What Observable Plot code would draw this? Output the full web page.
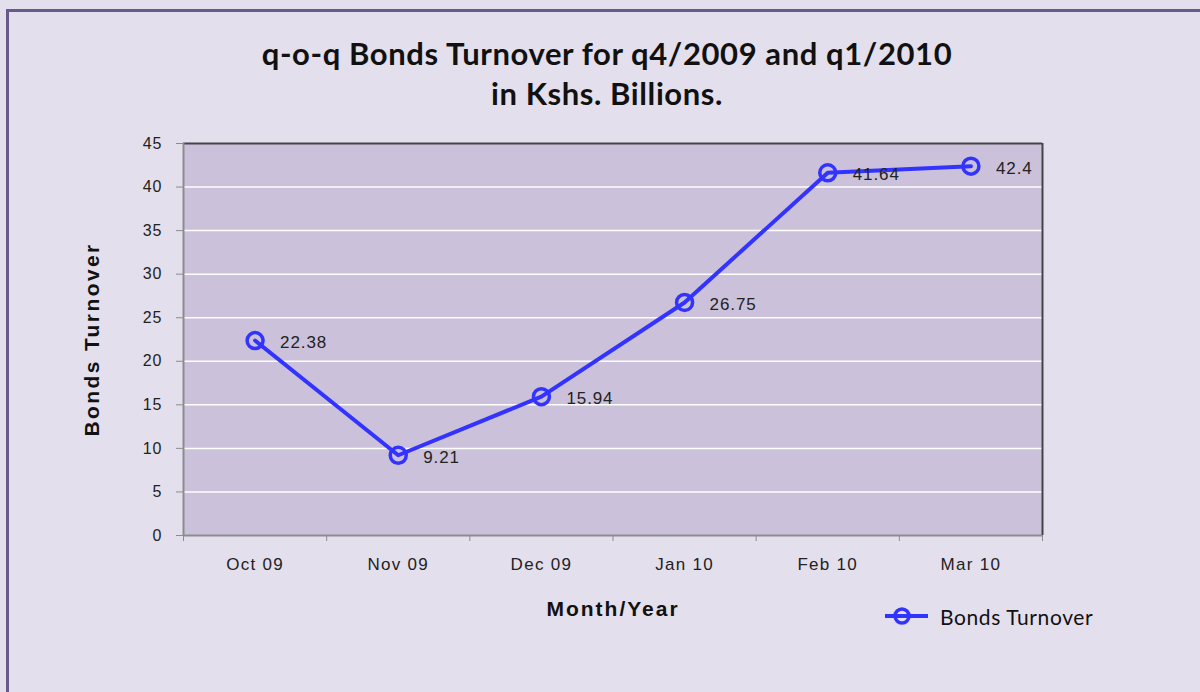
<!DOCTYPE html>
<html>
<head>
<meta charset="utf-8">
<script src="https://cdn.jsdelivr.net/npm/d3@7"></script>
<script src="https://cdn.jsdelivr.net/npm/@observablehq/plot@0.6"></script>
<style>
  html, body { margin: 0; padding: 0; }
  #page { position: relative; width: 1200px; height: 692px; overflow: hidden; background: #e4dfec; }
  #border { position: absolute; left: 6px; top: 9px; width: 1400px; height: 900px; border: 3px solid #6a5a8c; box-sizing: border-box; }
  #title { position: absolute; left: 0; width: 1214px; top: 33px; text-align: center; font-family: Lato, "Open Sans", sans-serif; font-weight: bold; font-size: 31px; letter-spacing: 0.6px; line-height: 40px; color: #111; }
  #chart { position: absolute; left: 0; top: 0; }
  #legend { position: absolute; left: 884px; top: 603px; display: flex; align-items: center; font-family: Lato, "Open Sans", sans-serif; font-size: 21px; letter-spacing: 0.6px; color: #111; }
</style>
</head>
<body>
<div id="page">
  <div id="border"></div>
  <div id="title">q-o-q Bonds Turnover for q4/2009 and q1/2010<br>in Kshs. Billions.</div>
  <div id="chart"></div>
  <div id="legend">
    <svg width="56" height="26"><line x1="1" y1="13" x2="44" y2="13" stroke="#3333ff" stroke-width="4"/><circle cx="18" cy="13" r="7" fill="none" stroke="#3333ff" stroke-width="3.5"/></svg>
    <span>Bonds Turnover</span>
  </div>
</div>
<script>
const months = ["Oct 09", "Nov 09", "Dec 09", "Jan 10", "Feb 10", "Mar 10"];
const turnover = [22.38, 9.21, 15.94, 26.75, 41.64, 42.4];
const yTicks = [0, 5, 10, 15, 20, 25, 30, 35, 40, 45];
const gridTicks = [5, 10, 15, 20, 25, 30, 35, 40];

const data = months.map((m, i) => ({month: m, i: i + 0.5, value: turnover[i]}));
const blue = "#3333ff";
const font = "'Liberation Sans', Arial, sans-serif";

const chart = Plot.plot({
  width: 1200,
  height: 692,
  marginLeft: 183,
  marginRight: 158,
  marginTop: 143,
  marginBottom: 157,
  style: {background: "transparent", fontFamily: font, fontSize: "16px", color: "#222"},
  x: {domain: [0, 6]},
  y: {domain: [0, 45]},
  marks: [
    Plot.frame({fill: "#cbc1da", stroke: null}),
    Plot.gridY(gridTicks, {stroke: "#ffffff", strokeOpacity: 1, strokeWidth: 1.5}),
    Plot.ruleY([45], {stroke: "#444", strokeWidth: 2}),
    Plot.ruleX([6], {stroke: "#444", strokeWidth: 2}),
    Plot.ruleY([0], {stroke: "#8c8c8c", strokeWidth: 2}),
    Plot.ruleX([0], {stroke: "#8c8c8c", strokeWidth: 2}),
    Plot.axisY({ticks: yTicks, tickSize: 7, tickPadding: 14, stroke: "#8c8c8c", fill: "#222", fontSize: 16, label: null}),
    Plot.axisX({ticks: [0, 1, 2, 3, 4, 5, 6], tickSize: 6, tickFormat: () => "", stroke: "#8c8c8c", label: null}),
    Plot.text(months, {x: (d, i) => i + 0.5, text: d => d, frameAnchor: "bottom", dy: 34, fontSize: 17, fill: "#222"}),
    Plot.text(["Month/Year"], {frameAnchor: "bottom", dy: 80, fontSize: 21, fontWeight: "bold", fill: "#111"}),
    Plot.text(["Bonds Turnover"], {frameAnchor: "left", textAnchor: "middle", dx: -91, rotate: -90, fontSize: 21, fontWeight: "bold", fill: "#111"}),
    Plot.line(data, {x: "i", y: "value", stroke: blue, strokeWidth: 4}),
    Plot.dot(data, {x: "i", y: "value", r: 8, stroke: blue, strokeWidth: 3.5, fill: "none"}),
    Plot.text(data, {x: "i", y: "value", text: d => String(d.value), textAnchor: "start", dx: 25, dy: 2, fontSize: 17, fill: "#222"})
  ]
});
document.getElementById("chart").appendChild(chart);

// widen letter spacing to match the reference's stretched rendering
const valueLabels = turnover.map(String);
const yLabels = yTicks.map(String);
d3.select(chart).selectAll("text").each(function () {
  const t = this.textContent;
  let ls = null;
  if (months.includes(t)) ls = "1.3px";
  else if (valueLabels.includes(t)) ls = "0.9px";
  else if (yLabels.includes(t)) ls = "1px";
  else if (t === "Month/Year") ls = "2px";
  else if (t === "Bonds Turnover") ls = "2.4px";
  if (ls) this.setAttribute("letter-spacing", ls);
});
</script>
</body>
</html>
